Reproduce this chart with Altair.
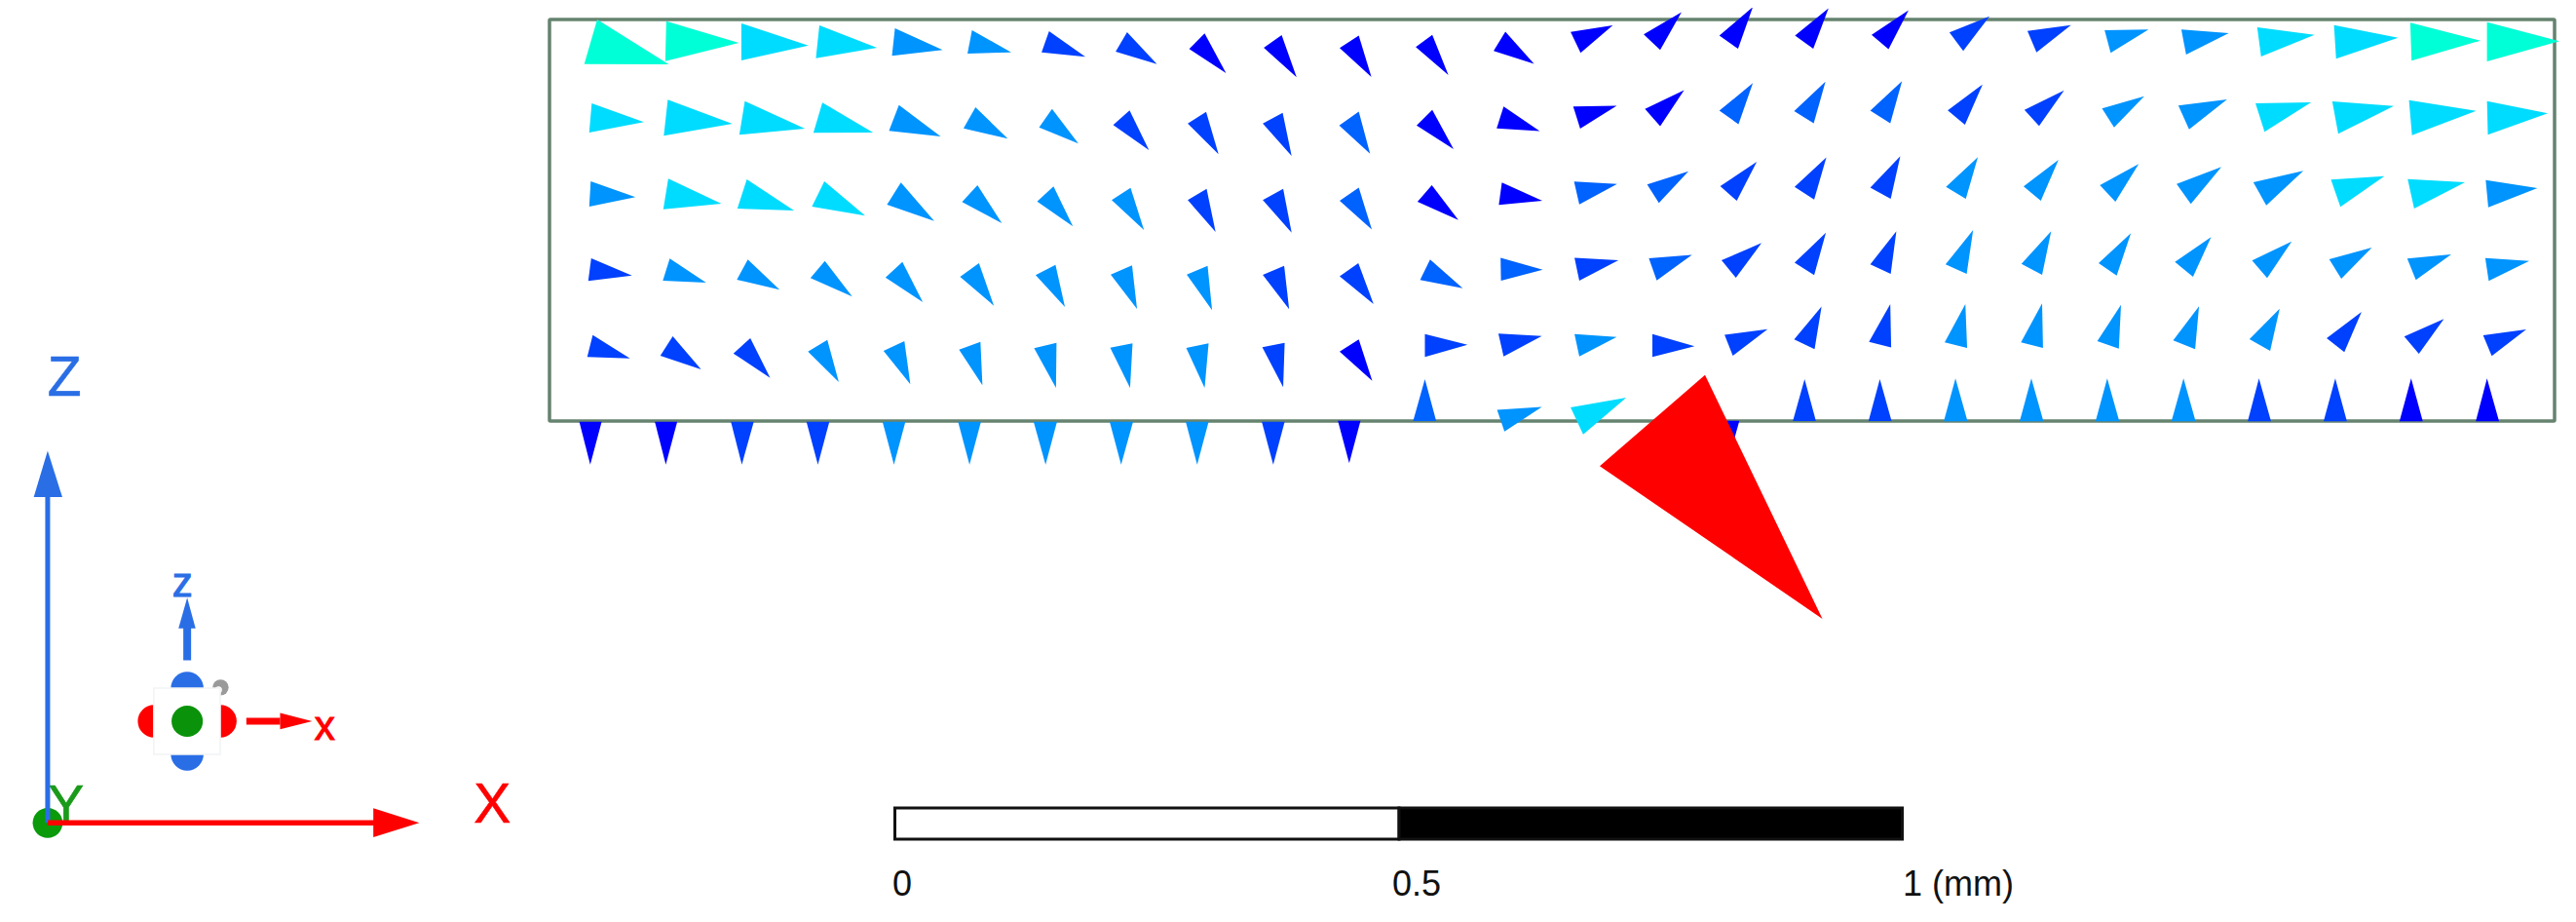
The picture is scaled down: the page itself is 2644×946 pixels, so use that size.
import altair as alt
import pandas as pd

# Vector field triangles: (ax, ay, bx, by, tipx, tipy, level)
# Each block is measured in its own reading grid; converted below.
LEFT = [
 (143,60,117,197,287,198,5),(282,65,280,188,428,132,5),(433,72,433,186,568,140,4),(590,78,583,179,706,147,4),
 (742,87,736,172,838,154,3),(897,93,888,165,976,161,3),(1052,96,1037,161,1125,175,1),(1209,99,1186,159,1269,197,1),
 (1365,103,1334,151,1408,225,0),(1520,108,1484,147,1550,238,0),
 (132,318,127,408,237,376,4),(285,307,277,418,415,381,4),(440,311,429,415,561,396,4),(596,316,578,409,698,408,4),
 (750,323,730,403,834,420,3),(904,330,880,395,969,427,3),(1058,335,1032,392,1111,442,3),(1214,340,1181,385,1253,462,1),
 (1368,344,1331,380,1393,475,1),(1522,347,1482,380,1540,480,1),
 (130,558,127,636,220,607,3),(286,550,276,644,393,627,4),(444,552,425,642,539,648,4),(600,558,575,636,682,664,4),
 (754,562,726,630,821,680,3),(908,570,877,622,957,687,3),(1061,574,1028,620,1100,697,3),(1216,578,1178,616,1243,708,3),
 (1369,581,1331,616,1387,714,1),(1523,581,1482,616,1540,716,1),
 (131,795,125,865,213,848,1),(289,796,275,864,362,870,3),(446,799,424,861,510,892,3),(601,803,572,856,656,913,3),
 (757,806,723,854,798,930,3),(911,810,873,852,941,941,3),(1065,815,1025,847,1084,945,3),(1219,817,1176,845,1229,951,3),
 (1371,818,1329,845,1380,955,3),(1525,818,1482,846,1535,952,1),
 (134,1031,123,1099,209,1103,1),(295,1035,270,1095,352,1137,1),(451,1041,417,1088,491,1163,1),(606,1046,567,1082,629,1176,3),
 (761,1050,719,1080,773,1183,3),(914,1052,871,1076,918,1186,3),(1067,1055,1022,1072,1066,1194,3),(1220,1057,1175,1070,1215,1194,3),
 (1373,1057,1328,1071,1365,1194,3),(1526,1055,1481,1069,1523,1192,1),
 (107,1298,152,1298,129,1430,0),(259,1298,304,1298,281,1430,0),(412,1298,458,1298,434,1430,1),(564,1298,610,1298,587,1430,1),
 (717,1298,763,1298,740,1430,3),(869,1298,915,1298,892,1430,3),(1021,1298,1068,1298,1045,1430,3),(1174,1298,1221,1298,1197,1430,3),
 (1327,1298,1373,1298,1350,1430,3),(1480,1298,1526,1298,1503,1430,1),
]
MIDDLE = [
 (212,87,168,117,241,188,0),(212,272,167,306,238,375,2),(212,458,168,490,242,560,2),(211,642,168,674,246,742,1),(212,828,168,858,243,929,0),(164,1027,216,1027,190,1130,0),
 (381,85,343,115,418,183,0),(381,268,345,306,430,364,0),(380,452,347,492,441,537,0),(376,633,353,683,451,703,2),(364,815,364,871,462,841,1),(337,1027,390,1027,364,925,2),
 (549,77,522,124,615,156,0),(545,260,529,313,628,320,0),(541,445,534,500,634,490,0),(538,629,539,685,635,658,2),(533,814,545,870,633,820,1),(530,1000,547,1053,633,993,3),
 (699,78,722,129,796,62,0),(705,260,721,314,805,258,0),(707,443,719,499,806,449,2),(708,629,719,685,809,635,1),(708,815,719,870,805,822,3),(699,994,728,1060,827,970,4),
 (867,84,905,122,954,30,0),(870,266,905,308,960,220,0),(875,450,902,495,970,418,2),(879,630,897,684,978,622,2),(887,815,887,871,984,845,1),
 (1041,87,1084,119,1118,17,0),(1041,270,1085,303,1118,203,2),(1043,454,1081,490,1127,395,1),(1046,635,1079,678,1138,593,1),(1053,817,1072,868,1152,803,1),(1033,1027,1087,1027,1060,1130,0),
 (1215,87,1257,119,1292,20,0),(1213,271,1258,301,1285,199,2),(1214,456,1259,487,1287,384,1),(1214,641,1259,671,1286,568,1),(1213,828,1260,852,1276,748,1),(1210,1027,1263,1027,1237,925,1),
 (1391,85,1430,120,1476,25,0),(1388,270,1434,301,1461,198,2),(1388,458,1435,485,1457,381,1),(1388,645,1435,668,1448,564,1),(1385,834,1436,848,1434,742,1),(1384,1027,1437,1027,1410,925,1),
]
RIGHT = [
 (115,100,147,157,208,50,1),(111,340,151,384,192,260,1),(107,575,153,612,181,484,3),(106,814,155,843,170,708,3),(104,1054,156,1071,152,936,3),(102,1297,157,1297,129,1165,3),
 (296,95,317,161,397,77,1),(289,338,323,388,381,278,1),(287,574,327,618,368,492,3),(282,812,330,846,351,712,3),(281,1054,332,1071,330,934,3),(278,1297,333,1297,305,1165,3),
 (475,93,489,163,577,91,3),(469,334,497,392,567,296,3),(464,570,500,621,554,505,3),(461,810,503,848,536,718,3),(458,1050,508,1073,513,938,3),(454,1297,509,1297,481,1165,3),
 (653,91,664,168,763,102,3),(646,325,671,398,759,306,3),(642,566,675,628,746,514,3),(638,806,680,852,722,730,3),(634,1048,685,1075,694,943,3),(630,1297,686,1297,658,1165,3),
 (829,84,838,174,962,107,4),(825,318,846,406,954,315,4),(820,561,850,632,936,526,3),(817,802,852,856,909,743,3),(811,1044,859,1080,881,950,3),(807,1297,861,1297,833,1165,1),
 (1007,77,1012,181,1156,116,4),(1003,312,1017,412,1146,326,4),(1000,553,1022,637,1124,542,4),(996,798,1024,858,1095,762,3),(990,1041,1031,1084,1071,960,1),(983,1297,1037,1297,1010,1165,1),
 (1184,70,1187,187,1347,125,5),(1181,308,1188,416,1337,341,4),(1178,551,1193,642,1311,561,4),(1177,796,1197,862,1279,783,3),(1170,1036,1204,1089,1262,982,1),(1159,1297,1213,1297,1186,1165,0),
 (1362,68,1362,189,1530,127,5),(1362,311,1364,415,1503,349,4),(1359,554,1365,638,1479,579,3),(1358,794,1366,865,1460,803,3),(1353,1032,1373,1096,1453,1014,1),(1336,1297,1390,1297,1362,1165,0),
]
PEAK = [(1008,915,766,1137,1278,1510,6)]
LEVEL_COLORS = ["#0000ff", "#0040ff", "#0062ff", "#0094ff", "#00dcff", "#00ffd6", "#ff0000"]

GRIDS = {"L": (540, 1.96, 3.0), "M": (1300, 2.24, 2.378), "R": (1950, 2.26, 3.0)}

def triangle_rows(rows, grid):
    x0, sx, sy = GRIDS[grid]
    out = []
    for ax, ay, bx, by, tx_, ty_, lev in rows:
        pts = [(x0 + px / sx, py / sy) for px, py in ((ax, ay), (bx, by), (tx_, ty_))]
        cx = sum(p[0] for p in pts) / 3
        cy = sum(p[1] for p in pts) / 3
        path = "M" + " L".join(f"{p[0]-cx:.2f},{p[1]-cy:.2f}" for p in pts) + " Z"
        out.append({"x": cx, "y": cy, "path": path, "color": LEVEL_COLORS[lev]})
    return out

X = alt.X("x:Q", scale=alt.Scale(domain=[8, 2636]), axis=None)
Y = alt.Y("y:Q", scale=alt.Scale(domain=[938, 8]), axis=None)
COL = alt.Color("color:N", scale=None)

def tri_layer(rows):
    return alt.Chart(pd.DataFrame(rows)).mark_point(filled=True, opacity=1, size=4, strokeWidth=0).encode(
        x=X, y=Y, color=COL, shape=alt.Shape("path:N", scale=None))

field = tri_layer(triangle_rows(LEFT, "L") + triangle_rows(MIDDLE, "M") + triangle_rows(RIGHT, "R"))
peak = tri_layer(triangle_rows(PEAK, "M"))

# Frame around the domain
frame_x = [564, 2622]
frame_y = [20, 432]
frame = alt.Chart(pd.DataFrame({"x": [frame_x[0]], "x2": [frame_x[1]], "y": [frame_y[0]], "y2": [frame_y[1]]})).mark_rect(
    fill=None, fillOpacity=0, stroke="#65836f", strokeWidth=3.5, cornerRadius=1).encode(x=X, x2="x2:Q", y=Y, y2="y2:Q")

# Scale bar
bar = pd.DataFrame({"x": [918.5, 1436], "x2": [1436, 1952.5], "y": [829, 829], "y2": [861, 861],
                    "color": ["#ffffff", "#000000"]})
bar_ch = alt.Chart(bar).mark_rect(stroke="#111111", strokeWidth=3).encode(x=X, x2="x2:Q", y=Y, y2="y2:Q", color=COL)
bar_labels = ["0", "0.5", "1 (mm)"]
bar_text = alt.Chart(pd.DataFrame({"x": [916, 1429, 1953], "y": [919, 919, 919], "t": bar_labels})).mark_text(
    font="Liberation Sans", fontSize=36, align="left", baseline="alphabetic", color="#111111").encode(x=X, y=Y, text="t:N")

# Triad (reading grid: 2.8 per unit, offset 340 vertically)
def tx(v): return v / 2.8
def ty(v): return v / 2.8 + 340

BLUE, RED, GREEN = "#2a6ee6", "#ff0000", "#0a9a0a"

def poly(pts, color):
    cx = sum(tx(p[0]) for p in pts) / len(pts)
    cy = sum(ty(p[1]) for p in pts) / len(pts)
    path = "M" + " L".join(f"{tx(p[0])-cx:.2f},{ty(p[1])-cy:.2f}" for p in pts) + " Z"
    return {"x": cx, "y": cy, "path": path, "color": color}

lines = pd.DataFrame([
    {"x": tx(137), "y": ty(1412), "x2": tx(137), "y2": ty(470), "color": BLUE, "w": 5},
    {"x": tx(538), "y": ty(945), "x2": tx(538), "y2": ty(850), "color": BLUE, "w": 8},
    {"x": tx(708), "y": ty(1120), "x2": tx(805), "y2": ty(1120), "color": RED, "w": 7},
])
red_line = pd.DataFrame([{"x": tx(137), "y": ty(1412), "x2": tx(1075), "y2": ty(1412), "color": RED, "w": 5.5}])

def rule_layer(df):
    return alt.Chart(df).mark_rule().encode(x=X, y=Y, x2="x2:Q", y2="y2:Q", color=COL,
                                            strokeWidth=alt.StrokeWidth("w:Q", scale=None))

heads = tri_layer([
    poly([(137, 343), (97, 476), (179, 476)], BLUE),
    poly([(538, 765), (513, 853), (562, 853)], BLUE),
    poly([(1205, 1412), (1073, 1370), (1073, 1453)], RED),
    poly([(897, 1120), (805, 1096), (805, 1143)], RED),
])

def dots(rows):
    df = pd.DataFrame([{"x": tx(a), "y": ty(b), "d": 2 * r / 2.8, "color": c} for a, b, r, c in rows])
    df["s"] = df["d"] ** 2
    return alt.Chart(df).mark_point(filled=True, opacity=1, shape="circle", strokeWidth=0).encode(
        x=X, y=Y, color=COL, size=alt.Size("s:Q", scale=None))

origin = dots([(137, 1412, 43, "#0a9a0a")])
gizmo_back = dots([
    (538, 1025, 47, "#2a6ee6"), (538, 1215, 47, "#2a6ee6"), (443, 1120, 47, RED), (633, 1120, 47, RED),
    (634, 1023, 23, "#9a9a9a"), (628, 1030, 10, "#ffffff"),
])
square = alt.Chart(pd.DataFrame({"x": [tx(442)], "x2": [tx(633)], "y": [ty(1025)], "y2": [ty(1215)]})).mark_rect(
    fill="#ffffff", stroke="#f1f3f5", strokeWidth=1.5).encode(x=X, x2="x2:Q", y=Y, y2="y2:Q")
gizmo_front = dots([(538, 1120, 45, "#0a930a")])

def label(t, x, y, size, color, sw):
    df = pd.DataFrame({"x": [tx(x)], "y": [ty(y)], "t": [t]})
    return alt.Chart(df).mark_text(font="Liberation Sans", fontSize=size, align="center", baseline="alphabetic",
                                   color=color, stroke=color, strokeWidth=sw).encode(x=X, y=Y, text="t:N")

labels = [
    label("Z", 185, 185, 57, "#2a6ee6", 0.6),
    label("Y", 190, 1412, 55, "#1a9a1a", 0.6),
    label("X", 1415, 1412, 57, RED, 0.6),
    label("z", 524, 762, 42, "#2a6ee6", 1.0),
    label("x", 933, 1172, 42, RED, 1.0),
]

chart = alt.layer(
    frame, field, peak, bar_ch, bar_text,
    origin, labels[1], rule_layer(lines), rule_layer(red_line), heads,
    gizmo_back, square, gizmo_front, labels[0], labels[2], labels[3], labels[4],
).properties(width=2628, height=930, padding=0, autosize=alt.AutoSizeParams(type="none"), background="#ffffff"
).configure_view(stroke=None)

chart.save("out.html", embed_options={"renderer": "svg", "actions": False})
